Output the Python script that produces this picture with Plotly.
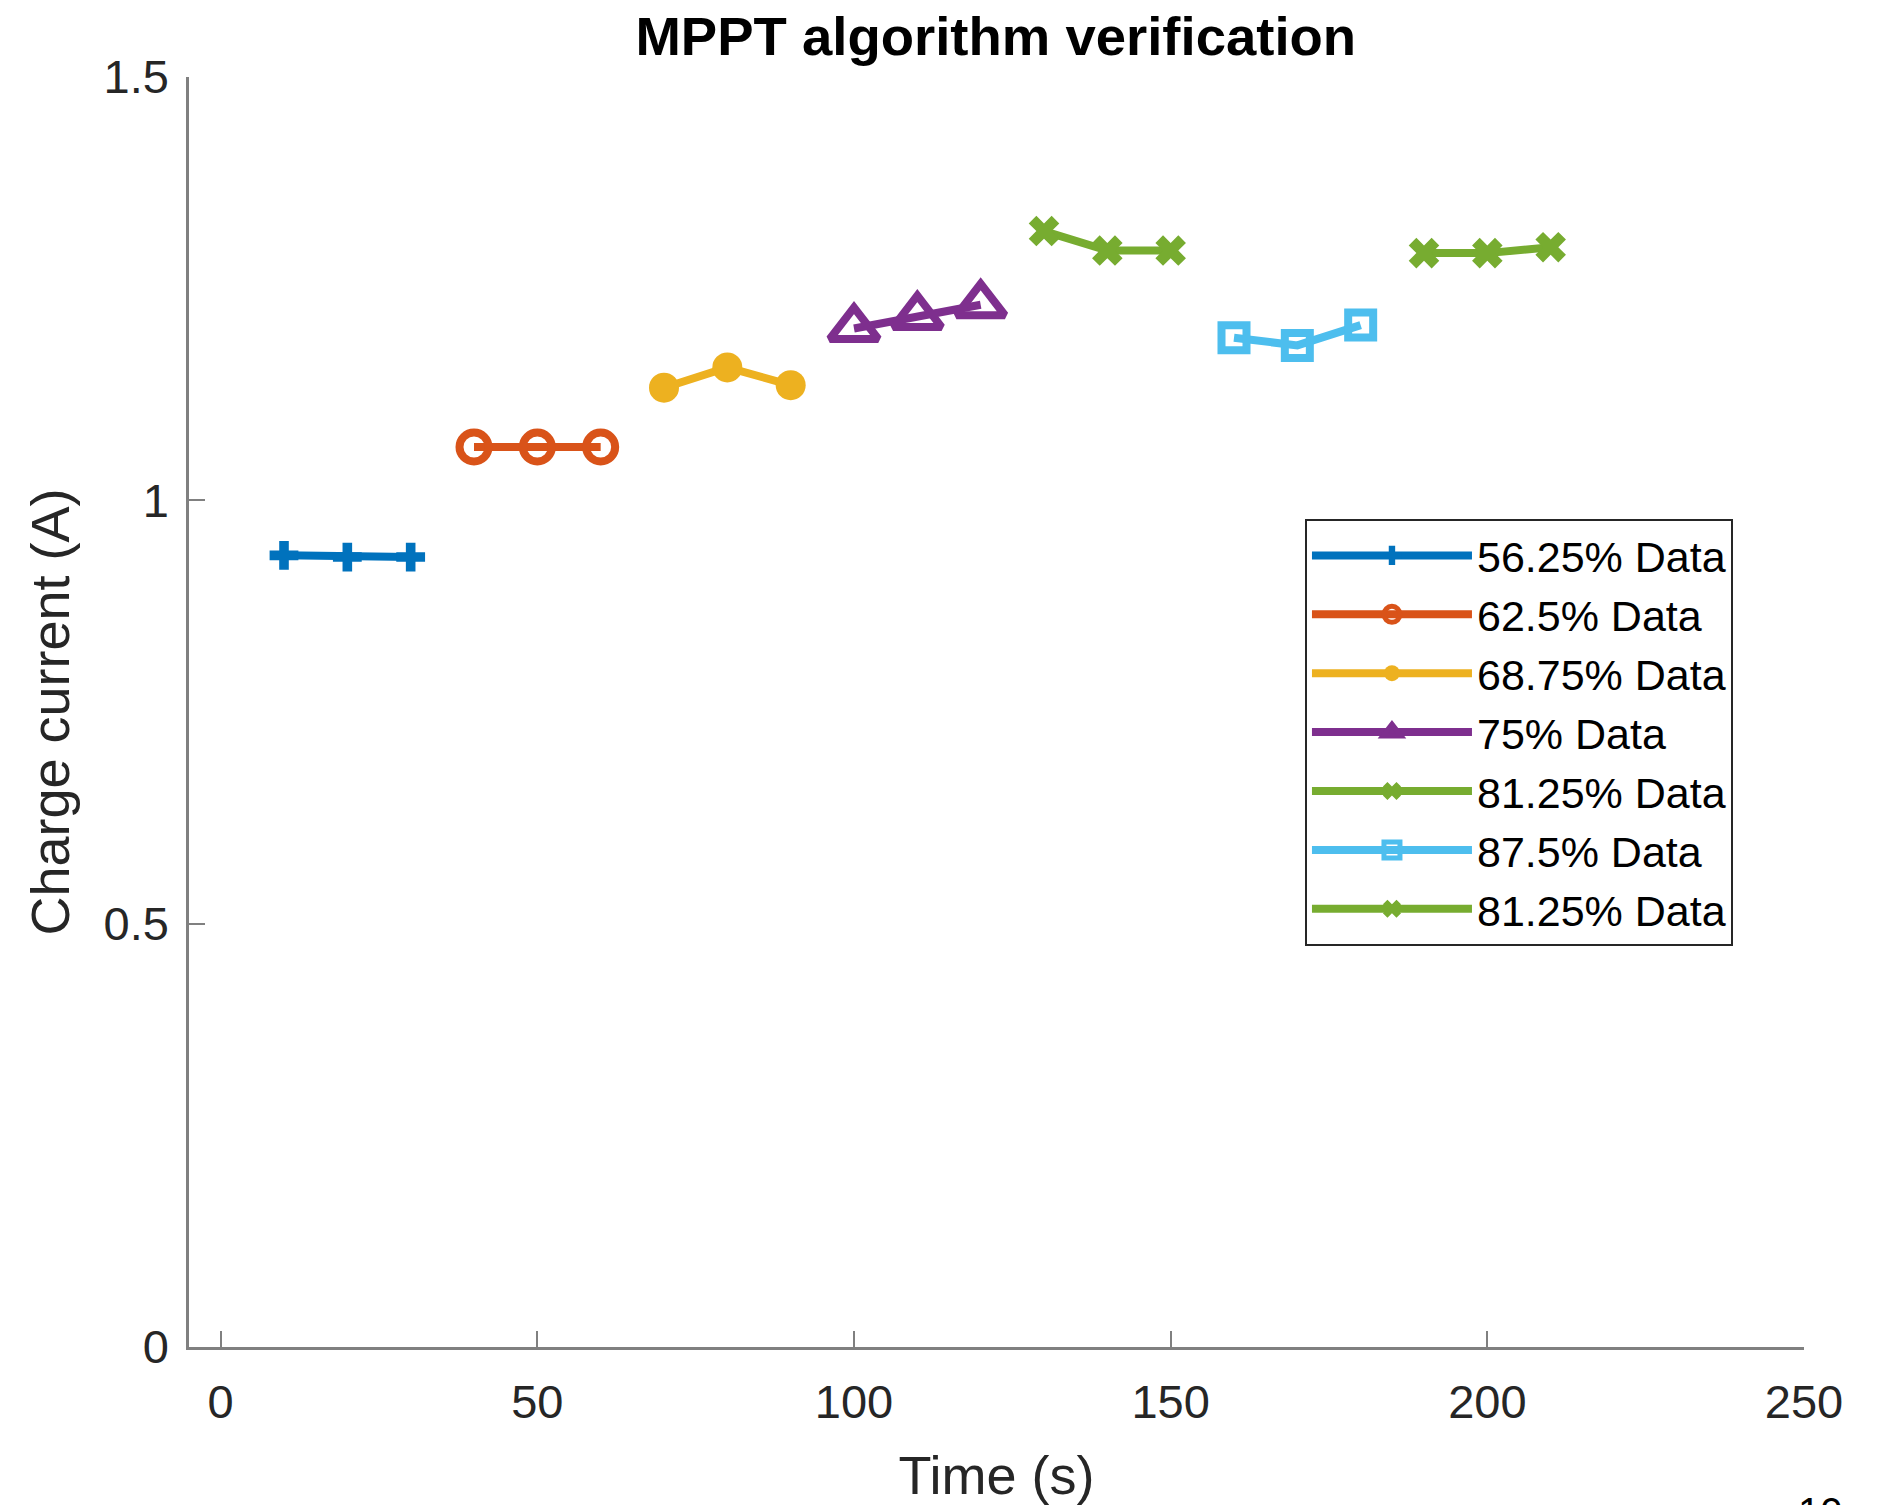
import plotly.graph_objects as go

# ---- data ----
labels = ["56.25% Data", "62.5% Data", "68.75% Data", "75% Data",
          "81.25% Data", "87.5% Data", "81.25% Data"]
t_56 = [10, 20, 30]
i_56 = [0.935, 0.933, 0.933]
t_62 = [40, 50, 60]
i_62 = [1.063, 1.063, 1.063]
t_68 = [70, 80, 90]
i_68 = [1.133, 1.157, 1.136]
t_75 = [100, 110, 120]
i_75 = [1.203, 1.217, 1.231]
t_81a = [130, 140, 150]
i_81a = [1.318, 1.295, 1.295]
t_87 = [160, 170, 180]
i_87 = [1.192, 1.183, 1.207]
t_81b = [190, 200, 210]
i_81b = [1.292, 1.292, 1.299]

x_ticks = [0, 50, 100, 150, 200, 250]
y_ticks = [0, 0.5, 1, 1.5]
y_ticktext = ["0", "0.5", "1", "1.5"]

series_x = [t_56, t_62, t_68, t_75, t_81a, t_87, t_81b]
series_y = [i_56, i_62, i_68, i_75, i_81a, i_87, i_81b]

# ---- styles ----
colors = ["#0072BD", "#D95319", "#EDB120", "#7E2F8E", "#77AC30", "#4DBEEE", "#77AC30"]
symbols = ["cross", "circle-open", "circle", "triangle-up-open", "x", "square-open", "x"]
msizes = [24, 29, 30, 42, 27, 25, 27]
mlinew = [0, 8, 0, 8, 0, 8, 0]
LW = 8
FONT = "Liberation Sans, Arial, sans-serif"
TXT = "#262626"
AX = "#808080"

fig = go.Figure()
for k in range(len(labels)):
    fig.add_trace(go.Scatter(
        x=series_x[k], y=series_y[k], name=labels[k], mode="lines+markers",
        line=dict(color=colors[k], width=LW),
        marker=dict(symbol=symbols[k], size=msizes[k], color=colors[k],
                    line=dict(color=colors[k], width=mlinew[k])),
    ))

fig.update_layout(
    width=1886, height=1505,
    margin=dict(l=189, r=82, t=77, b=158, autoexpand=False),
    paper_bgcolor="white", plot_bgcolor="white",
    font=dict(family=FONT, color=TXT),
    title=dict(text="<b>MPPT algorithm verification</b>", x=0.528, xanchor="center",
               y=0.976, yanchor="middle", yref="container",
               font=dict(size=54.5, color="black", family=FONT)),
    legend=dict(x=0.691, y=0.652, xanchor="left", yanchor="top",
                bgcolor="white", bordercolor=TXT, borderwidth=2,
                font=dict(size=43, color="black", family=FONT),
                tracegroupgap=0, itemwidth=160),
    showlegend=True,
)
fig.update_xaxes(
    range=[-5, 250], tickvals=x_ticks, showgrid=False, zeroline=False,
    showline=True, linecolor=AX, linewidth=2.5, mirror=False, automargin=False,
    ticks="inside", ticklen=16, tickwidth=2, tickcolor=AX,
    tickfont=dict(size=47, color=TXT), ticklabelstandoff=12,
    title=dict(text="Time (s)", font=dict(size=54, color=TXT), standoff=32),
)
fig.update_yaxes(
    range=[0, 1.5], tickvals=y_ticks, ticktext=y_ticktext, showgrid=False, zeroline=False,
    showline=True, linecolor=AX, linewidth=2.5, mirror=False, automargin=False,
    ticks="inside", ticklen=16, tickwidth=2, tickcolor=AX,
    tickfont=dict(size=47, color=TXT), ticklabelstandoff=8,
    title=dict(text="Charge current (A)", font=dict(size=54, color=TXT), standoff=17),
)
fig.add_annotation(text="10", xref="paper", yref="paper", x=1.01, y=-0.13,
                   xanchor="center", yanchor="middle", showarrow=False,
                   font=dict(size=40, color="black", family=FONT))

fig.write_html("out.html")
